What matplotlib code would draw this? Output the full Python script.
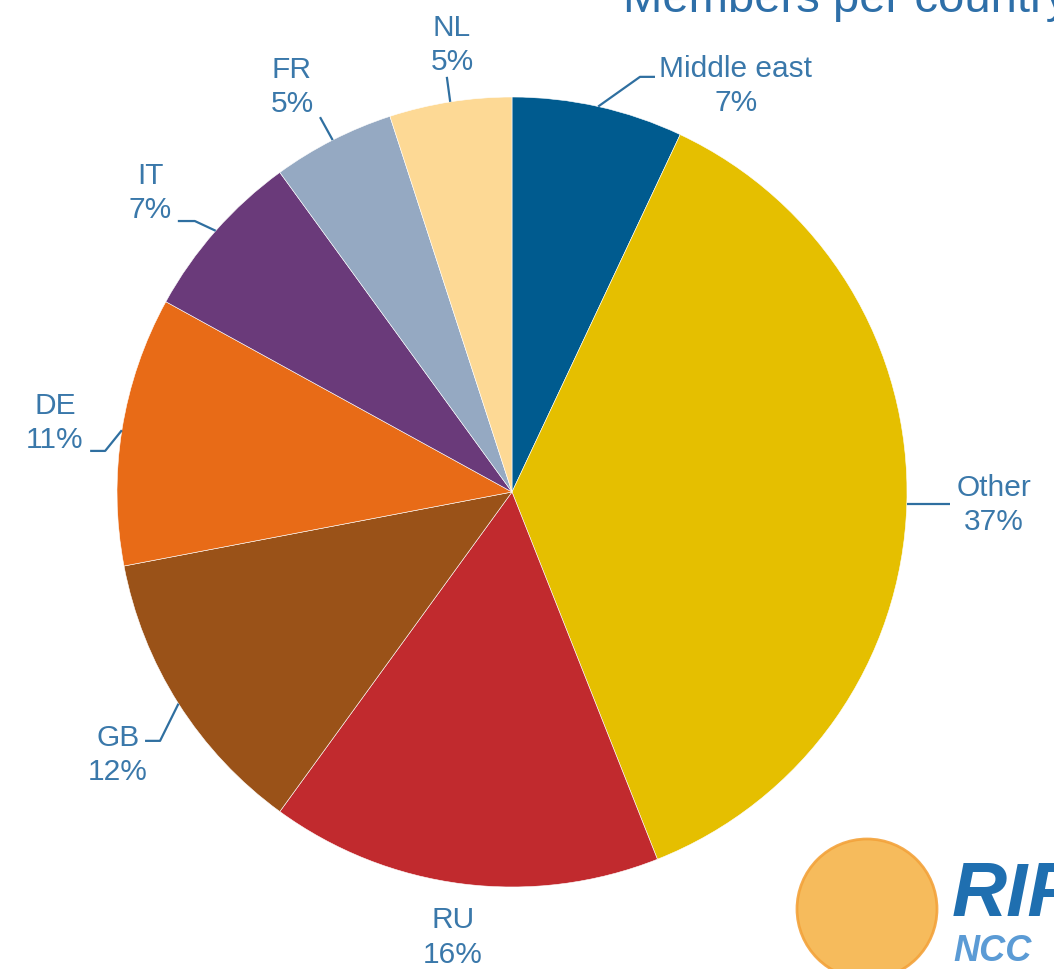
import numpy as np
import matplotlib
matplotlib.use('Agg')
import matplotlib.pyplot as plt
from matplotlib.patches import Ellipse

# data
labels = ['Middle east', 'Other', 'RU', 'GB', 'DE', 'IT', 'FR', 'NL']
shares = [7, 37, 16, 12, 11, 7, 5, 5]
colors = ['#005b8f', '#e5bf00', '#c12a2e', '#9a5218',
          '#e86b17', '#6a3a7a', '#95a9c2', '#fdd995']

# label layout (data coords, pie radius = 1)
text_pos = {'Middle east': (0.567, 1.030), 'Other': (1.220, -0.030),
            'RU': (-0.150, -1.125), 'GB': (-0.997, -0.663),
            'DE': (-1.157, 0.177), 'IT': (-0.916, 0.759),
            'FR': (-0.557, 1.028), 'NL': (-0.152, 1.134)}
# leader: (elbow, end) or None
leaders = {'Middle east': ((0.324, 1.051), (0.362, 1.051)),
           'Other': (None, (1.109, -0.030)),
           'RU': None,
           'GB': ((-0.891, -0.630), (-0.929, -0.630)),
           'DE': ((-1.030, 0.104), (-1.068, 0.104)),
           'IT': ((-0.803, 0.686), (-0.846, 0.686)),
           'FR': (None, (-0.486, 0.949)),
           'NL': (None, (-0.165, 1.051))}

txt_color = '#3a78aa'
font = 'Liberation Sans'

fig = plt.figure(figsize=(10.54, 9.70), dpi=100)
ax = fig.add_axes([117/1054, 1 - 888/970, 790/1054, 790/970])

wedges, _ = ax.pie(shares, colors=colors, startangle=90, counterclock=False,
                   radius=1, wedgeprops=dict(edgecolor='white', linewidth=0.4))
ax.set_xlim(-1, 1)
ax.set_ylim(-1, 1)
ax.set_aspect('equal')
ax.axis('off')

for w, lab, val in zip(wedges, labels, shares):
    ang = np.deg2rad((w.theta1 + w.theta2) / 2)
    x0, y0 = np.cos(ang), np.sin(ang)
    tx, ty = text_pos[lab]
    ax.text(tx, ty, '%s\n%d%%' % (lab, val), ha='center', va='center',
            fontsize=21.5, color=txt_color, family=font, linespacing=1.3,
            clip_on=False)
    ld = leaders[lab]
    if ld is None:
        continue
    elbow, end = ld
    if elbow is None:
        if lab == 'Other':
            end = (end[0], y0)
        xs, ys = [x0, end[0]], [y0, end[1]]
    else:
        xs, ys = [x0, elbow[0], end[0]], [y0, elbow[1], end[1]]
    ax.plot(xs, ys, color='#2f6fa0', lw=1.6, clip_on=False,
            solid_capstyle='butt')

# cut-off title
fig.text(623/1054, 1 - 12/970, 'Members per country', fontsize=34,
         color='#2e6fa8', family=font, ha='left', va='baseline')

# logo
ball = Ellipse((867/1054, 1 - 910/970), 140/1054, 140/970,
               transform=fig.transFigure, facecolor='#f6b44a',
               edgecolor='#f3a23a', lw=2, alpha=0.9)
fig.patches.append(ball)
fig.text(952/1054, 1 - 916/970, 'RIPE', fontsize=55, fontweight='bold',
         style='italic', color='#1f6fb0', family=font, va='baseline')
fig.text(953/1054, 1 - 961/970, 'NCC', fontsize=26, fontweight='bold',
         style='italic', color='#5b9bd5', family=font, va='baseline')

fig.savefig('out.png', dpi=100)
